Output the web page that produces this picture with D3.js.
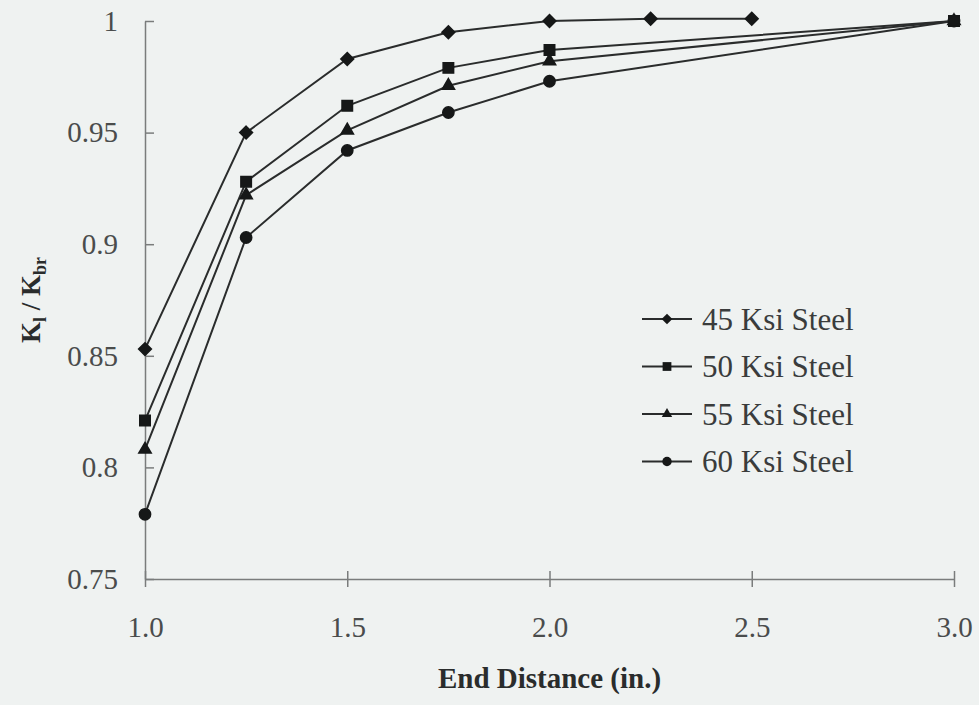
<!DOCTYPE html>
<html>
<head>
<meta charset="utf-8">
<script src="https://cdn.jsdelivr.net/npm/d3@7"></script>
<style>
  body { margin: 0; background: #eff2f1; }
  svg { display: block; }
</style>
</head>
<body>
<div class="canva"></div>
<script>
// data
const endDistance = [1.0, 1.25, 1.5, 1.75, 2.0, 2.25, 2.5, 3.0];
const steel45 = [0.853, 0.950, 0.983, 0.995, 1.000, 1.001, 1.001, null];
const steel50 = [0.821, 0.928, 0.962, 0.979, 0.987, null, null, 1.000];
const steel55 = [0.808, 0.922, 0.951, 0.971, 0.982, null, null, 1.000];
const steel60 = [0.779, 0.903, 0.942, 0.959, 0.973, null, null, 1.000];
const seriesNames = ['45 Ksi Steel', '50 Ksi Steel', '55 Ksi Steel', '60 Ksi Steel'];
const xTicks = [1.0, 1.5, 2.0, 2.5, 3.0];
const yTicks = [0.75, 0.8, 0.85, 0.9, 0.95, 1];

const series = [steel45, steel50, steel55, steel60].map((vals, i) => ({
  name: seriesNames[i],
  points: endDistance.map((x, j) => ({x: x, y: vals[j]})).filter(p => p.y != null)
}));

const width = 979, height = 705;
const margin = {top: 21, right: 25, bottom: 126, left: 145};
const graphWidth = width - margin.left - margin.right;
const graphHeight = height - margin.top - margin.bottom;
const serif = '"Liberation Serif", "Times New Roman", serif';

const svg = d3.select('.canva').append('svg')
  .attr('width', width)
  .attr('height', height)
  .style('font-family', serif);

svg.append('rect').attr('width', width).attr('height', height).attr('fill', '#eff2f1');

const graph = svg.append('g')
  .attr('transform', `translate(${margin.left}, ${margin.top})`);

const x = d3.scaleLinear().domain([1, 3]).range([0, graphWidth]);
const y = d3.scaleLinear().domain([0.75, 1]).range([graphHeight, 0]);

// axes, ticks cross the line on both sides
const xAxis = d3.axisBottom(x).tickValues(xTicks).tickFormat(d3.format('.1f'))
  .tickSizeInner(8).tickSizeOuter(0).tickPadding(29);
const yAxis = d3.axisLeft(y).tickValues(yTicks).tickFormat(d => d === 1 ? '1' : d3.format('.2~f')(d))
  .tickSizeInner(9).tickSizeOuter(0).tickPadding(18);

const xAxisGroup = graph.append('g')
  .attr('transform', `translate(0, ${graphHeight})`)
  .call(xAxis);
const yAxisGroup = graph.append('g').call(yAxis);

xAxisGroup.selectAll('.tick line').attr('y1', -8);
yAxisGroup.selectAll('.tick line').attr('x2', 9);

[xAxisGroup, yAxisGroup].forEach(g => {
  g.select('.domain').attr('stroke', '#7a7c7c').attr('stroke-width', 1.5);
  g.selectAll('.tick line').attr('stroke', '#7a7c7c').attr('stroke-width', 1.5);
  g.selectAll('.tick text')
    .attr('fill', '#4a4c4c')
    .style('font-size', '29px')
    .style('font-family', serif);
});

// lines
const line = d3.line().x(d => x(d.x)).y(d => y(d.y));
graph.selectAll('path.series')
  .data(series)
  .enter().append('path')
  .attr('class', 'series')
  .attr('d', d => line(d.points))
  .attr('fill', 'none')
  .attr('stroke', '#2a2c2c')
  .attr('stroke-width', 2);

// markers
const symbols = [d3.symbolDiamond2, d3.symbolSquare2, d3.symbolTriangle2, d3.symbolCircle];
const sizes = [105, 140, 110, 100];
const symbolPath = (i, k) => d3.symbol().type(symbols[i]).size(sizes[i] * k)();

series.forEach((s, i) => {
  graph.selectAll(`.m${i}`)
    .data(s.points)
    .enter().append('path')
    .attr('class', `m${i}`)
    .attr('d', symbolPath(i, 1))
    .attr('transform', d => `translate(${x(d.x)}, ${y(d.y)})`)
    .attr('fill', '#161818')
    .attr('stroke', '#161818')
    .attr('stroke-width', 1.5);
});

// legend
const legend = svg.append('g').attr('transform', 'translate(642, 319)');
const item = legend.selectAll('g')
  .data(series)
  .enter().append('g')
  .attr('transform', (d, i) => `translate(0, ${i * 47.5})`);
item.append('line')
  .attr('x1', 0).attr('x2', 50).attr('y1', 0).attr('y2', 0)
  .attr('stroke', '#2a2c2c').attr('stroke-width', 2);
item.append('path')
  .attr('d', (d, i) => symbolPath(i, 0.7))
  .attr('transform', 'translate(25, 0)')
  .attr('fill', '#161818');
item.append('text')
  .attr('x', 60).attr('y', 0).attr('dy', '0.35em')
  .attr('fill', '#3a3c3c')
  .style('font-size', '31px')
  .text(d => d.name);

// axis titles
svg.append('text')
  .attr('x', margin.left + graphWidth / 2)
  .attr('y', 688)
  .attr('text-anchor', 'middle')
  .attr('fill', '#2a2c2c')
  .style('font-size', '29px')
  .style('font-weight', 'bold')
  .text('End Distance (in.)');

const yTitle = svg.append('text')
  .attr('transform', `translate(40, ${margin.top + graphHeight / 2}) rotate(-90)`)
  .attr('text-anchor', 'middle')
  .attr('fill', '#2a2c2c')
  .style('font-size', '27px')
  .style('font-weight', 'bold');
yTitle.append('tspan').text('K');
yTitle.append('tspan').attr('dy', 6).style('font-size', '18px').text('l');
yTitle.append('tspan').attr('dy', -6).text(' / K');
yTitle.append('tspan').attr('dy', 6).style('font-size', '18px').text('br');
</script>
</body>
</html>
